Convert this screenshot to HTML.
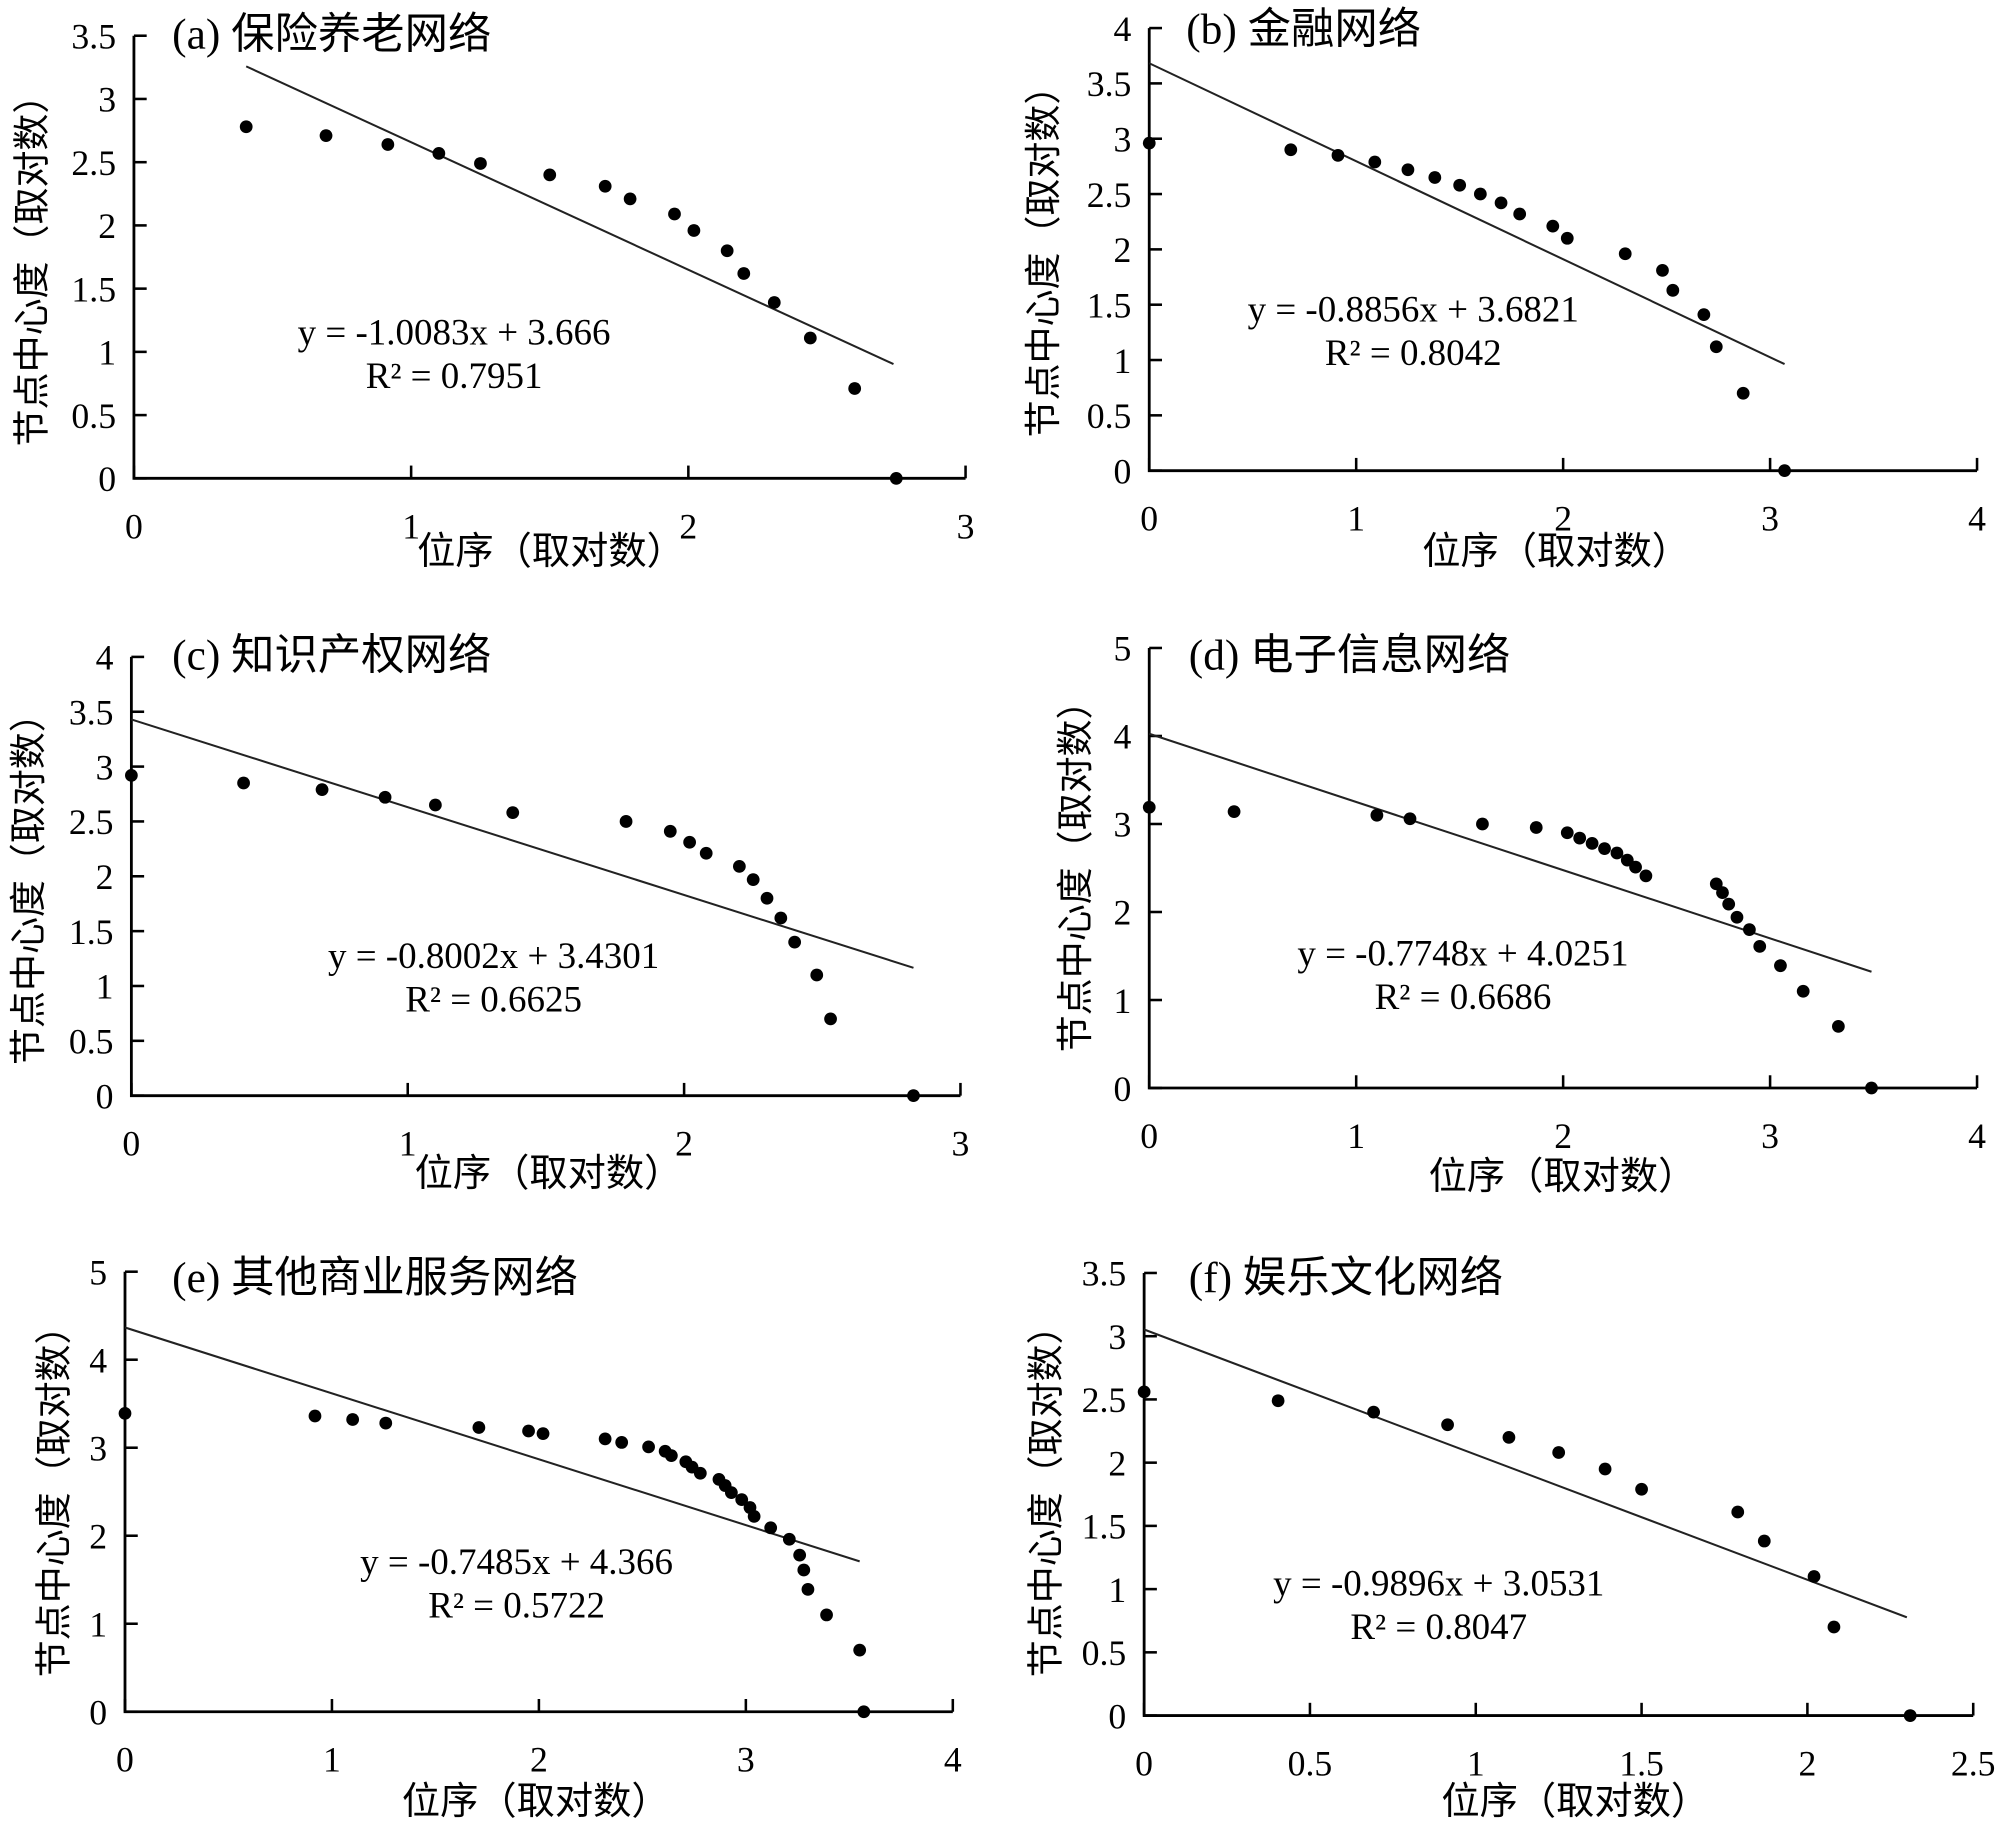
<!DOCTYPE html>
<html><head><meta charset="utf-8"><style>
html,body{margin:0;padding:0;background:#fff;}
svg{display:block;}
text{font-family:"Liberation Serif","Noto Sans CJK SC",serif;fill:#000;}
</style></head><body>
<svg id="fig" xmlns="http://www.w3.org/2000/svg" width="2000" height="1824" viewBox="0 0 1568 1430"></svg>
<script>
// Panel data arrays
const titles = ["(a) 保险养老网络","(b) 金融网络","(c) 知识产权网络","(d) 电子信息网络","(e) 其他商业服务网络","(f) 娱乐文化网络"];
const slopes = [-1.0083,-0.8856,-0.8002,-0.7748,-0.7485,-0.9896];
const intercepts = [3.666,3.6821,3.4301,4.0251,4.366,3.0531];
const eqLabels = ["y = -1.0083x + 3.666","y = -0.8856x + 3.6821","y = -0.8002x + 3.4301","y = -0.7748x + 4.0251","y = -0.7485x + 4.366","y = -0.9896x + 3.0531"];
const r2Labels = ["R² = 0.7951","R² = 0.8042","R² = 0.6625","R² = 0.6686","R² = 0.5722","R² = 0.8047"];
const lineX = [[0.405,2.74],[0,3.07],[0,2.83],[0,3.49],[0,3.55],[0,2.3]];
const xA = [.405,.693,.916,1.1,1.25,1.5,1.70,1.79,1.95,2.02,2.14,2.20,2.31,2.44,2.60,2.75];
const yA = [2.78,2.71,2.64,2.57,2.49,2.40,2.31,2.21,2.09,1.96,1.80,1.62,1.39,1.11,0.71,0];
const xB = [0,.684,.912,1.09,1.25,1.38,1.50,1.60,1.70,1.79,1.95,2.02,2.30,2.48,2.53,2.68,2.74,2.87,3.07];
const yB = [2.96,2.90,2.85,2.79,2.72,2.65,2.58,2.50,2.42,2.32,2.21,2.10,1.96,1.81,1.63,1.41,1.12,0.70,0];
const xC = [0,.406,.69,.918,1.10,1.38,1.79,1.95,2.02,2.08,2.20,2.25,2.30,2.35,2.40,2.48,2.53,2.83];
const yC = [2.92,2.85,2.79,2.72,2.65,2.58,2.50,2.41,2.31,2.21,2.09,1.97,1.80,1.62,1.40,1.10,0.70,0];
const xD = [0,.41,1.10,1.26,1.61,1.87,2.02,2.08,2.14,2.20,2.26,2.31,2.35,2.40,2.74,2.77,2.80,2.84,2.90,2.95,3.05,3.16,3.33,3.49];
const yD = [3.19,3.14,3.10,3.06,3.00,2.96,2.90,2.84,2.78,2.72,2.67,2.59,2.51,2.41,2.32,2.22,2.09,1.94,1.80,1.61,1.39,1.10,0.70,0];
const xE = [0,.918,1.10,1.26,1.71,1.95,2.02,2.32,2.40,2.53,2.61,2.64,2.71,2.74,2.78,2.87,2.90,2.93,2.98,3.02,3.04,3.12,3.21,3.26,3.28,3.30,3.39,3.55,3.57];
const yE = [3.39,3.36,3.32,3.28,3.23,3.19,3.16,3.10,3.06,3.01,2.96,2.91,2.84,2.78,2.71,2.64,2.57,2.49,2.41,2.32,2.22,2.09,1.96,1.78,1.61,1.39,1.10,0.70,0];
const xF = [0,.404,.692,.915,1.10,1.25,1.39,1.50,1.79,1.87,2.02,2.08,2.31];
const yF = [2.56,2.49,2.40,2.30,2.20,2.08,1.95,1.79,1.61,1.38,1.10,0.70,0];
const xsAll = [xA,xB,xC,xD,xE,xF];
const ysAll = [yA,yB,yC,yD,yE,yF];
const xTicks = [["0","1","2","3"],["0","1","2","3","4"],["0","1","2","3"],["0","1","2","3","4"],["0","1","2","3","4"],["0","0.5","1","1.5","2","2.5"]];
const yTicks = [["0","0.5","1","1.5","2","2.5","3","3.5"],["0","0.5","1","1.5","2","2.5","3","3.5","4"],["0","0.5","1","1.5","2","2.5","3","3.5","4"],["0","1","2","3","4","5"],["0","1","2","3","4","5"],["0","0.5","1","1.5","2","2.5","3","3.5"]];

// layout (pixel geometry, not data)
const L = [
 {x0:105,x1:757,y0:375,y1:28, tx:135,ty:37, eqx:356,eqy:270, ytx:25,yty:205, xtx:432,xty:442},
 {x0:901,x1:1550,y0:369,y1:22, tx:930,ty:33, eqx:1108,eqy:252, ytx:818,yty:198, xtx:1220,xty:442},
 {x0:103,x1:753,y0:859,y1:515, tx:135,ty:524, eqx:387,eqy:759, ytx:22,yty:690, xtx:430,xty:930},
 {x0:901,x1:1550,y0:853,y1:508, tx:932,ty:524, eqx:1147,eqy:757, ytx:843,yty:680, xtx:1225,xty:932},
 {x0:98,x1:747,y0:1342,y1:997, tx:135,ty:1012, eqx:405,eqy:1234, ytx:42,yty:1170, xtx:420,xty:1422},
 {x0:897,x1:1547,y0:1345,y1:998, tx:932,ty:1012, eqx:1128,eqy:1251, ytx:820,yty:1170, xtx:1235,xty:1422}
];
const NS="http://www.w3.org/2000/svg";
const svg=document.getElementById('fig');
function mk(tag,attrs,parent){const e=document.createElementNS(NS,tag);for(const k in attrs)e.setAttribute(k,attrs[k]);parent.appendChild(e);return e;}
for(let p=0;p<6;p++){
  const g=mk('g',{},svg);
  
  
  const l=L[p];
  const xmax=parseFloat(xTicks[p][xTicks[p].length-1]);
  const ymax=parseFloat(yTicks[p][yTicks[p].length-1]);
  const sx=v=>l.x0+(l.x1-l.x0)*v/xmax;
  const sy=v=>l.y0-(l.y0-l.y1)*v/ymax;
  const ax=mk('path',{d:`M${l.x0},${l.y1}V${l.y0}H${l.x1}`,stroke:'#000','stroke-width':2.2,fill:'none'},g);
  
  
  yTicks[p].forEach(t=>{const v=parseFloat(t);const y=sy(v);
    mk('line',{x1:l.x0,x2:l.x0+10,y1:y,y2:y,stroke:'#000','stroke-width':2},g);
    const tx=mk('text',{x:l.x0-14,y:y+10,'font-size':28,'text-anchor':'end'},g);tx.textContent=t;
    
    
  });
  xTicks[p].forEach(t=>{const v=parseFloat(t);const x=sx(v);
    mk('line',{x1:x,x2:x,y1:l.y0-10,y2:l.y0,stroke:'#000','stroke-width':2},g);
    const tx=mk('text',{x:x,y:l.y0+47,'font-size':28,'text-anchor':'middle'},g);tx.textContent=t;
    
    
  });
  const a=lineX[p][0],b=lineX[p][1];
  const tl=mk('line',{x1:sx(a),y1:sy(slopes[p]*a+intercepts[p]),x2:sx(b),y2:sy(slopes[p]*b+intercepts[p]),stroke:'#222','stroke-width':1.6},g);
  
  
  xsAll[p].forEach((xv,i)=>{
    const c=mk('circle',{cx:sx(xv),cy:sy(ysAll[p][i]),r:5,fill:'#000'},g);
    
    
  });
  const tt=mk('text',{x:l.tx,y:l.ty+1,'font-size':34},g);tt.textContent=titles[p];
  
  
  const eq=mk('text',{x:l.eqx,y:l.eqy,'font-size':29,'text-anchor':'middle'},g);eq.textContent=eqLabels[p];
  
  
  const r2=mk('text',{x:l.eqx,y:l.eqy+34,'font-size':29,'text-anchor':'middle'},g);r2.textContent=r2Labels[p];
  
  
  const xt=mk('text',{x:l.xtx,y:l.xty,'font-size':30,'text-anchor':'middle'},g);xt.textContent='位序（取对数）';
  
  
  const yt=mk('text',{x:0,y:0,'font-size':29,'text-anchor':'middle',transform:`translate(${l.ytx+10},${l.yty}) rotate(-90)`},g);yt.textContent='节点中心度（取对数）';
  
  
}
</script>
</body></html>
